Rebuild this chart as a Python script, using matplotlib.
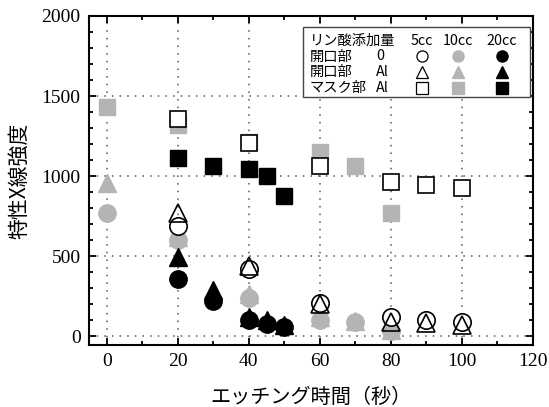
import matplotlib
matplotlib.use("Agg")
import matplotlib.pyplot as plt
from matplotlib.ticker import MultipleLocator
from matplotlib.patches import Rectangle

# ---- data ----
x_5cc = [20, 40, 60, 80, 90, 100]
y_5cc_open0 = [690, 420, 210, 120, 100, 90]
y_5cc_openAl = [770, 440, 200, 90, 80, 70]
y_5cc_mask = [1355, 1205, 1062, 964, 944, 923]

x_10cc = [0, 20, 40, 60, 70, 80]
y_10cc_open0 = [771, 600, 237, 100, 90, 30]
y_10cc_openAl = [958, 620, 265, 120, 95, 40]
y_10cc_mask = [1433, 1320, 1215, 1152, 1062, 771]

x_20cc = [20, 30, 40, 45, 50]
y_20cc_open0 = [360, 221, 100, 79, 58]
y_20cc_openAl = [496, 287, 121, 100, 69]
y_20cc_mask = [1110, 1062, 1042, 1000, 875]

x_ticks = [0, 20, 40, 60, 80, 100, 120]
y_ticks = [0, 500, 1000, 1500, 2000]

legend_title = "リン酸添加量"
legend_rows = [("開口部", "0"), ("開口部", "Al"), ("マスク部", "Al")]
legend_cols = ["5cc", "10cc", "20cc"]

GRAY = "#b4b4b4"
CJK = ["Noto Sans CJK JP", "DejaVu Sans"]
plt.rcParams['font.serif'] = ["Liberation Serif", "Times New Roman", "DejaVu Serif"]

fig = plt.figure(figsize=(5.49, 4.07), dpi=100)
ax = fig.add_axes([89/549, 1-345/407, 444/549, 329/407])

ms_c, ms_t, ms_s = 12.5, 13.5, 11
# gray (10cc)
ax.plot(x_10cc, y_10cc_open0, 'o', ms=ms_c, color=GRAY, mec=GRAY, zorder=3)
ax.plot(x_10cc, y_10cc_openAl, '^', ms=ms_t, color=GRAY, mec=GRAY, zorder=3)
ax.plot(x_10cc, y_10cc_mask, 's', ms=ms_s, color=GRAY, mec=GRAY, zorder=3)
# black (20cc)
ax.plot(x_20cc, y_20cc_open0, 'o', ms=ms_c, color='black', zorder=4)
ax.plot(x_20cc, y_20cc_openAl, '^', ms=ms_t, color='black', zorder=4)
ax.plot(x_20cc, y_20cc_mask, 's', ms=ms_s, color='black', zorder=4)
# open (5cc)
ax.plot(x_5cc, y_5cc_open0, 'o', ms=ms_c, mfc='white', mec='black', mew=1.2, zorder=5)
ax.plot(x_5cc, y_5cc_openAl, '^', ms=ms_t, mfc='none', mec='black', mew=1.2, zorder=6)
ax.plot(x_5cc, y_5cc_mask, 's', ms=ms_s, mfc='white', mec='black', mew=1.2, zorder=5)

ax.set_xlim(-5, 120)
ax.set_ylim(-55, 2000)
ax.set_xticks(x_ticks)
ax.set_xticklabels([str(v) for v in x_ticks], fontfamily='serif', fontsize=14)
ax.set_yticks(y_ticks)
ax.set_yticklabels([str(v) for v in y_ticks], fontfamily='serif', fontsize=14)
ax.xaxis.set_minor_locator(MultipleLocator(10))
ax.yaxis.set_minor_locator(MultipleLocator(100))
ax.tick_params(which='both', direction='in', top=True, right=True, width=1.3)
ax.tick_params(which='major', length=5, pad=6)
ax.tick_params(which='minor', length=3)
for sp in ax.spines.values():
    sp.set_linewidth(1.5)

ax.grid(True, which='major', linestyle=(0, (1, 4)), color='#555555', linewidth=1.1)
ax.set_axisbelow(True)

ax.set_xlabel("エッチング時間（秒）", fontsize=14.5, family=CJK, labelpad=12)
ax.set_ylabel("特性X線強度", fontsize=15, family=CJK, labelpad=8)

# legend table
box = Rectangle((0.481, 0.754), 0.512, 0.213, transform=ax.transAxes,
                facecolor='white', edgecolor='#444444', lw=1.0, zorder=7)
ax.add_patch(box)
row_y = [0.924, 0.877, 0.830, 0.781]
col_x = [0.75, 0.831, 0.930]
fs = 10.3
ax.text(0.497, row_y[0], legend_title, transform=ax.transAxes, fontsize=fs,
        family=CJK, va='center', ha='left', zorder=8)
for cx, c in zip(col_x, legend_cols):
    ax.text(cx, row_y[0], c, transform=ax.transAxes, fontsize=fs, family=CJK,
            va='center', ha='center', zorder=8)
for (lab, sub), ry in zip(legend_rows, row_y[1:]):
    ax.text(0.497, ry, lab, transform=ax.transAxes, fontsize=fs, family=CJK,
            va='center', ha='left', zorder=8)
    ax.text(0.647, ry, sub, transform=ax.transAxes, fontsize=fs, family=CJK,
            va='center', ha='left', zorder=8)
mk = ['o', '^', 's']
for m, ry in zip(mk, row_y[1:]):
    ax.plot([col_x[0]], [ry], m, ms=8, mfc='white', mec='black', mew=0.9,
            transform=ax.transAxes, zorder=8, clip_on=False)
    ax.plot([col_x[1]], [ry], m, ms=8, color=GRAY, transform=ax.transAxes,
            zorder=8, clip_on=False)
    ax.plot([col_x[2]], [ry], m, ms=8, color='black', transform=ax.transAxes,
            zorder=8, clip_on=False)

fig.savefig("out.png", dpi=100)
